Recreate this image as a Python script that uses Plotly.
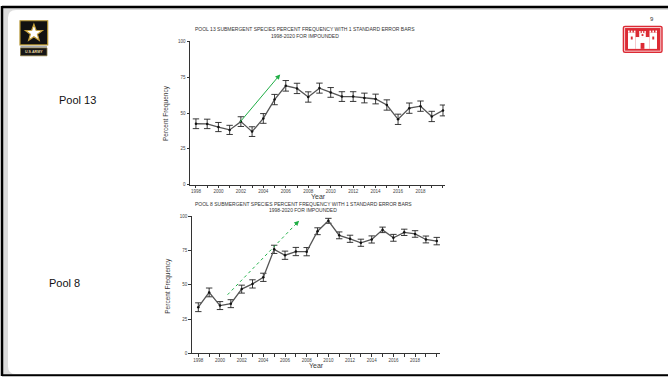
import math
import plotly.graph_objects as go

W, H = 668, 380

YEARS = list(range(1998, 2021))
XTICK_TEXT = [str(y) if (y % 2 == 0 and y <= 2018) else "" for y in YEARS]
YTICKS = [0, 25, 50, 75, 100]

POOL13_PCT = [42.5, 42.4, 40.2, 38.2, 44.0, 37.0, 46.2, 59.4, 69.0, 67.2, 61.2, 67.4,
              64.4, 61.5, 61.5, 60.5, 59.8, 55.6, 45.6, 53.4, 54.8, 47.6, 51.8]
POOL13_SE = [3.4, 3.3, 3.2, 3.2, 3.4, 3.4, 3.4, 3.6, 3.7, 3.6, 3.6, 3.5,
             3.4, 3.4, 3.4, 3.4, 3.4, 3.6, 3.6, 3.6, 3.6, 3.6, 3.8]

POOL8_PCT = [33.6, 44.4, 34.8, 36.2, 46.8, 50.6, 55.4, 75.8, 71.5, 74.2, 74.1, 89.0,
             96.6, 86.0, 83.5, 80.6, 83.0, 90.0, 84.2, 88.2, 87.0, 83.0, 81.8]
POOL8_SE = [3.2, 3.2, 2.9, 2.9, 2.9, 3.0, 3.0, 3.0, 3.0, 3.0, 3.0, 2.5,
            1.8, 2.5, 2.6, 2.6, 2.6, 2.0, 2.5, 2.3, 2.4, 2.5, 2.7]

FONT = "Liberation Sans, Arial, sans-serif"


def px(x):
    return x / W


def py(y):
    return 1 - y / H


fig = go.Figure()

for pct, se, ax_x, ax_y in [(POOL13_PCT, POOL13_SE, "x", "y"), (POOL8_PCT, POOL8_SE, "x2", "y2")]:
    fig.add_trace(go.Scatter(
        x=YEARS, y=pct, mode="lines+markers", xaxis=ax_x, yaxis=ax_y,
        line=dict(color="#555555", width=1.3),
        marker=dict(color="#111111", size=2.5),
        error_y=dict(type="data", array=se, color="#222222", thickness=0.9, width=3.2),
        showlegend=False, hoverinfo="skip",
    ))

axis_common = dict(showline=True, linecolor="#333333", linewidth=1, ticks="outside",
                   ticklen=2.5, tickwidth=0.8, tickcolor="#333333", showgrid=False,
                   zeroline=False, tickfont=dict(size=4.5, color="#444444", family=FONT))

fig.update_layout(
    width=W, height=H, margin=dict(l=0, r=0, t=0, b=0, pad=0),
    paper_bgcolor="white", plot_bgcolor="rgba(0,0,0,0)",
    xaxis=dict(domain=[px(190), px(445)], range=[1997.47, 2020.18], anchor="y",
               tickvals=YEARS, ticktext=XTICK_TEXT, **axis_common),
    yaxis=dict(domain=[py(185), py(40)], range=[0, 100], anchor="x",
               tickvals=YTICKS, **axis_common),
    xaxis2=dict(domain=[px(191.7), px(440)], range=[1997.39, 2020.3], anchor="y2",
                tickvals=YEARS, ticktext=XTICK_TEXT, **axis_common),
    yaxis2=dict(domain=[py(356), py(217)], range=[0, 100], anchor="x2",
                tickvals=YTICKS, **axis_common),
)

shapes = []
# slide frame
shapes.append(dict(type="rect", xref="paper", yref="paper", x0=px(2), x1=px(669), y0=py(378), y1=py(5),
                   fillcolor="#dcdcdc", line=dict(width=0), layer="below"))
r = 8
x0, y0, x1, y1 = 8, 8, 672, 377
path = (f"M {px(x0 + r)},{py(y0)} L {px(x1)},{py(y0)} L {px(x1)},{py(y1)} L {px(x0 + r)},{py(y1)} "
        f"Q {px(x0)},{py(y1)} {px(x0)},{py(y1 - r)} L {px(x0)},{py(y0 + r)} "
        f"Q {px(x0)},{py(y0)} {px(x0 + r)},{py(y0)} Z")
shapes.append(dict(type="path", xref="paper", yref="paper", path=path, fillcolor="white",
                   line=dict(width=0), layer="below"))
shapes.append(dict(type="line", xref="paper", yref="paper", x0=px(2), x1=px(668), y0=py(5), y1=py(5),
                   line=dict(color="black", width=2.5)))
shapes.append(dict(type="line", xref="paper", yref="paper", x0=px(2), x1=px(2), y0=py(4), y1=py(379),
                   line=dict(color="black", width=2.5)))
shapes.append(dict(type="line", xref="paper", yref="paper", x0=px(2), x1=px(668), y0=py(378.3), y1=py(378.3),
                   line=dict(color="black", width=2)))

# army logo
shapes.append(dict(type="rect", xref="paper", yref="paper", x0=px(20), x1=px(47.7), y0=py(43.5), y1=py(19),
                   fillcolor="#111111", line=dict(color="#b39330", width=1.2)))
cx, cy, ro, ri = 33.9, 31.6, 9.0, 3.7
pts = []
for k in range(10):
    ang = -math.pi / 2 + k * math.pi / 5
    rad = ro if k % 2 == 0 else ri
    pts.append((cx + rad * math.cos(ang), cy + rad * math.sin(ang)))
star = "M " + " L ".join(f"{px(a)},{py(b)}" for a, b in pts) + " Z"
shapes.append(dict(type="path", xref="paper", yref="paper", path=star, fillcolor="white",
                   line=dict(color="#c4a03a", width=1.2)))
shapes.append(dict(type="line", xref="paper", yref="paper", x0=px(20.5), x1=px(47), y0=py(45.3), y1=py(45.3),
                   line=dict(color="#9aa3b0", width=1.2)))
shapes.append(dict(type="rect", xref="paper", yref="paper", x0=px(20.5), x1=px(47), y0=py(54.5), y1=py(46.5),
                   fillcolor="#161616", line=dict(color="#8a7a40", width=0.8)))

# castle logo
RED = "#dc2a34"
shapes.append(dict(type="path", xref="paper", yref="paper",
                   path=(f"M {px(625)},{py(24)} L {px(660.5)},{py(24)} Q {px(662.7)},{py(24)} {px(662.7)},{py(26.2)} "
                         f"L {px(662.7)},{py(49.5)} Q {px(662.7)},{py(51.7)} {px(660.5)},{py(51.7)} "
                         f"L {px(625)},{py(51.7)} Q {px(622.7)},{py(51.7)} {px(622.7)},{py(49.5)} "
                         f"L {px(622.7)},{py(26.2)} Q {px(622.7)},{py(24)} {px(625)},{py(24)} Z"),
                   fillcolor=RED, line=dict(width=0)))
shapes.append(dict(type="rect", xref="paper", yref="paper", x0=px(624.6), x1=px(660.8), y0=py(49.8), y1=py(25.9),
                   fillcolor="rgba(0,0,0,0)", line=dict(color="white", width=0.8)))
castle_rects = [
    (628, 635.5, 31, 47.5), (649.5, 657, 31, 47.5), (635.5, 649.5, 35.5, 47.5), (639.2, 645.8, 31.5, 35.5),
    (628, 629.6, 29, 31), (630.9, 632.5, 29, 31), (633.9, 635.5, 29, 31),
    (649.5, 651.1, 29, 31), (652.4, 654.0, 29, 31), (655.4, 657, 29, 31),
    (639.2, 640.6, 29.5, 31.5), (641.8, 643.2, 29.5, 31.5), (644.4, 645.8, 29.5, 31.5),
]
for a, b, c, d in castle_rects:
    shapes.append(dict(type="rect", xref="paper", yref="paper", x0=px(a), x1=px(b), y0=py(d), y1=py(c),
                       fillcolor="white", line=dict(width=0)))
for a, b, c, d in [(640.6, 644.4, 41.5, 47.5), (630.8, 632.7, 35, 38), (652.3, 654.2, 35, 38),
                   (641.6, 643.4, 32.5, 34.5)]:
    shapes.append(dict(type="rect", xref="paper", yref="paper", x0=px(a), x1=px(b), y0=py(d), y1=py(c),
                       fillcolor=RED, line=dict(width=0)))

# dotted trend line on pool 8
shapes.append(dict(type="line", xref="x2", yref="y2", x0=2000.7, y0=42.7, x1=2007.1, y1=95.0,
                   line=dict(color="#22b04a", width=1, dash="dot")))
fig.update_layout(shapes=shapes)

ann = []
ann.append(dict(xref="x", yref="y", axref="x", ayref="y", x=2005.5, y=77, ax=2001.8, ay=42.5,
                text="", showarrow=True, arrowhead=2, arrowsize=1, arrowwidth=1, arrowcolor="#1fae45"))
ann.append(dict(xref="x2", yref="y2", axref="x2", ayref="y2", x=2007.3, y=96.6, ax=2006.9, ay=93.4,
                text="", showarrow=True, arrowhead=2, arrowsize=1, arrowwidth=1, arrowcolor="#1fae45"))


def txt(x, y, s, size, color="#333333", angle=0, anchor="center"):
    ann.append(dict(xref="paper", yref="paper", x=px(x), y=py(y), text=s, showarrow=False,
                    xanchor=anchor, yanchor="middle", textangle=angle,
                    font=dict(family=FONT, size=size, color=color)))


txt(305, 27.7, "POOL 13 SUBMERGENT SPECIES PERCENT FREQUENCY WITH 1 STANDARD ERROR BARS", 5)
txt(305, 34.2, "1998-2020 FOR IMPOUNDED", 5)
txt(303, 204.3, "POOL 8 SUBMERGENT SPECIES PERCENT FREQUENCY WITH 1 STANDARD ERROR BARS", 5)
txt(303, 210.8, "1998-2020 FOR IMPOUNDED", 5)
txt(165.5, 113, "Percent Frequency", 6.5, color="#3a3a3a", angle=-90)
txt(168.5, 287, "Percent Frequency", 6.5, color="#3a3a3a", angle=-90)
txt(318, 197.5, "Year", 7, color="#3a3a3a")
txt(316.5, 368.3, "Year", 7, color="#3a3a3a")
txt(77, 99, "Pool 13", 11, color="#111111")
txt(64.5, 284.5, "Pool 8", 11, color="#111111")
txt(652, 17.3, "9", 6, color="#333333")
txt(33.8, 50.6, "<b>U.S.ARMY</b>", 3.6, color="#e8d9a0")
fig.update_layout(annotations=ann)

# the page's default body margin would shift the figure by 8px
fig.write_html("out.html", config={"displayModeBar": False},
               post_script="document.body.style.margin='0px';")
